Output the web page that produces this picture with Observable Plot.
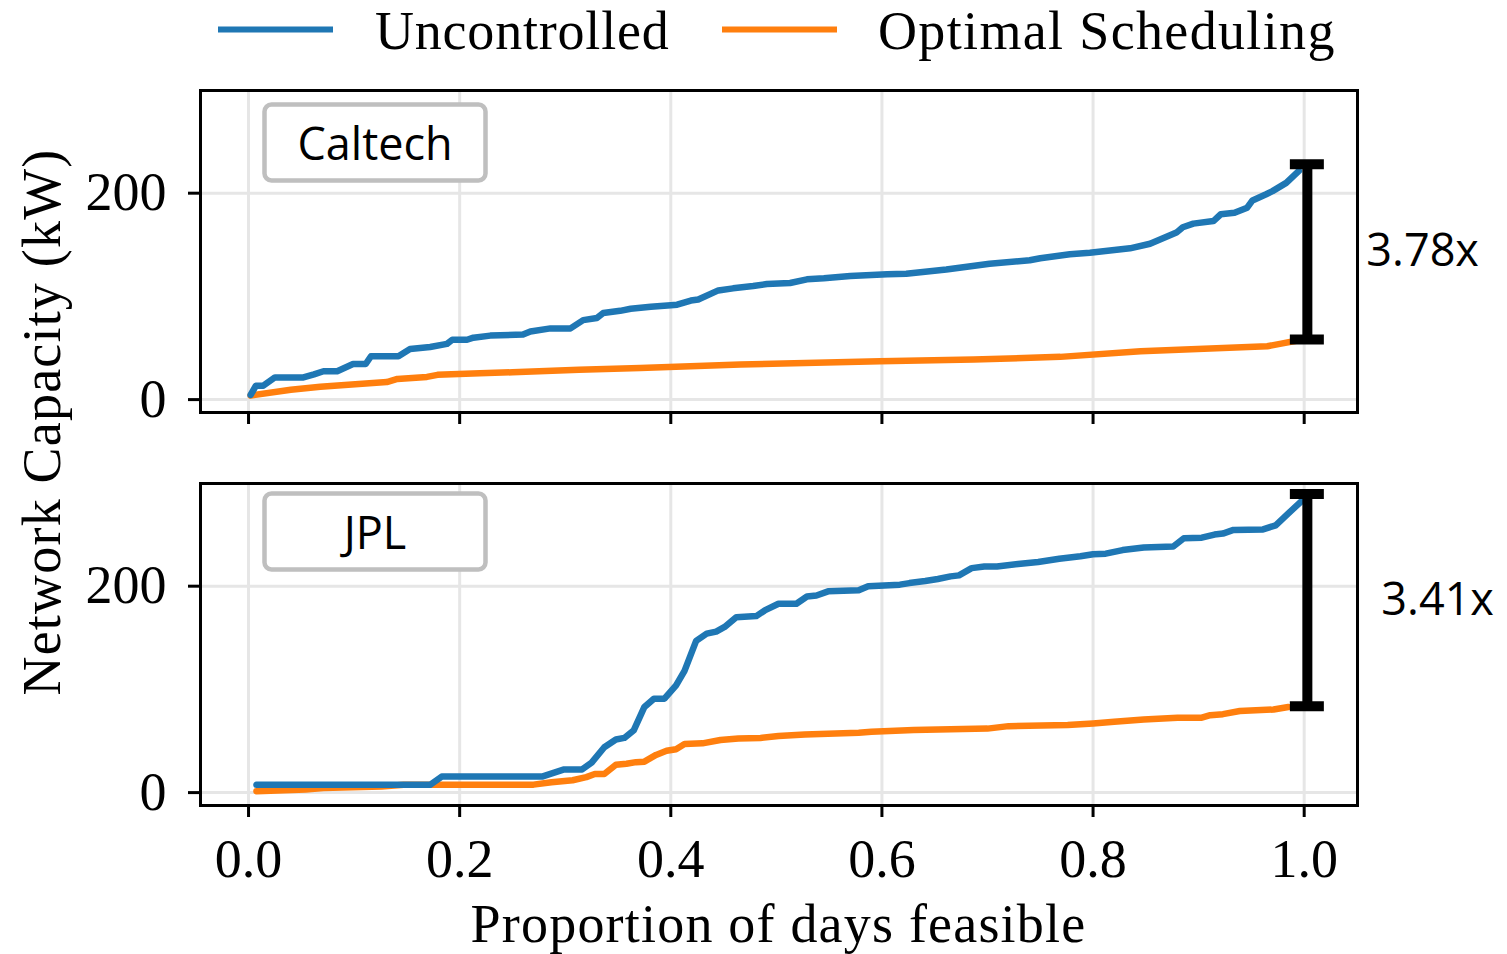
<!DOCTYPE html>
<html>
<head>
<meta charset="utf-8">
<script src="https://cdn.jsdelivr.net/npm/d3@7"></script>
<script src="https://cdn.jsdelivr.net/npm/@observablehq/plot@0.6"></script>
<style>
  html, body { margin: 0; padding: 0; background: #fff; }
  #chart { position: relative; width: 1507px; height: 954px; overflow: hidden; }
  .panel { position: absolute; left: 0; }
  #overlay { position: absolute; left: 0; top: 0; pointer-events: none; }
</style>
</head>
<body>
<div id="chart"></div>
<script>
// ---------------- data ----------------
const seriesNames = ["Uncontrolled", "Optimal Scheduling"];
const seriesColors = ["#1f77b4", "#ff7f0e"];
const xTicks = [0, 0.2, 0.4, 0.6, 0.8, 1.0];
const yTicks = [0, 200];

// [proportion of days feasible, network capacity kW]
const caltechUncontrolled = [
  [0.002,4.5],[0.007,13.5],[0.014,13.5],[0.025,21.5],[0.052,21.5],[0.062,24.5],[0.071,27.5],[0.084,27.5],
  [0.099,34.5],[0.111,34.5],[0.116,42],[0.142,42],[0.153,49],[0.172,51],[0.188,54],[0.193,58],[0.207,58],
  [0.213,60],[0.229,62],[0.26,63],[0.267,66],[0.286,69],[0.305,69],[0.317,77],[0.33,79],[0.336,84],
  [0.352,86],[0.362,88],[0.381,90],[0.4,91.5],[0.406,92],[0.419,96],[0.426,97],[0.445,105.8],[0.459,107.8],
  [0.478,110],[0.491,112],[0.513,113],[0.529,116.5],[0.545,117.5],[0.57,119.7],[0.605,121.4],[0.623,122],
  [0.661,126],[0.702,131.6],[0.74,135],[0.75,137],[0.778,140.8],[0.797,142.3],[0.835,146.6],[0.854,151],
  [0.879,161.8],[0.885,167],[0.895,170.5],[0.914,173],[0.921,179.6],[0.934,181],[0.946,186],[0.951,193],
  [0.964,199],[0.97,202],[0.983,210],[0.995,221.6]
];
const caltechOptimal = [
  [0.002,4],[0.04,9.5],[0.068,12.5],[0.131,17],[0.141,20],[0.169,22],[0.179,24],[0.219,25.5],[0.25,26.5],
  [0.313,29],[0.371,30.7],[0.466,34],[0.598,37.2],[0.687,38.8],[0.769,41.4],[0.845,46.9],[0.965,51.7],
  [0.977,54],[0.995,57.5]
];
const jplUncontrolled = [
  [0.0075,7.5],[0.172,7.5],[0.183,15.5],[0.278,15.5],[0.299,22.5],[0.316,22.5],[0.325,29],[0.337,44],
  [0.348,51.5],[0.356,53],[0.365,60.5],[0.375,83],[0.384,91],[0.394,91],[0.405,104],[0.413,118],[0.424,147],
  [0.434,154],[0.443,156],[0.451,160.5],[0.462,170],[0.481,171],[0.489,176.5],[0.502,183],[0.519,183],
  [0.529,190],[0.538,191],[0.549,195],[0.578,196],[0.587,200],[0.617,201.5],[0.626,203],[0.641,205],
  [0.653,207],[0.665,209.5],[0.673,210.5],[0.685,217.5],[0.697,219],[0.709,219],[0.729,221.5],[0.748,223.5],
  [0.768,226.5],[0.788,229],[0.8,231],[0.812,231.5],[0.828,235],[0.848,237.5],[0.876,238.5],[0.886,246.5],
  [0.903,247],[0.915,250],[0.923,251],[0.933,254.5],[0.961,255],[0.973,259],[0.985,270.5],[0.997,282]
];
const jplOptimal = [
  [0.0075,1.3],[0.054,2.9],[0.071,4.5],[0.126,6],[0.147,7.7],[0.27,7.7],[0.287,10],[0.307,12],[0.32,15],
  [0.328,18],[0.337,18],[0.348,27],[0.358,28],[0.367,29.5],[0.375,30],[0.386,36.5],[0.396,40.5],[0.405,42],
  [0.413,47],[0.43,47.7],[0.447,51],[0.464,52.5],[0.485,53],[0.502,54.8],[0.527,56.4],[0.578,58],[0.59,59],
  [0.63,60.6],[0.7,62],[0.72,64.4],[0.776,65.4],[0.8,67],[0.82,68.6],[0.848,70.8],[0.88,72.6],[0.903,72.6],
  [0.911,75],[0.923,76],[0.939,79],[0.971,80.5],[0.985,83]
];
// gap annotations: x, low, high, label
const caltechGap = {x: 1.003, lo: 58.3, hi: 228, label: "3.78x"};
const jplGap = {x: 1.003, lo: 83.6, hi: 289.4, label: "3.41x"};

// ---------------- drawing ----------------
const W = 1507, ML = 200, MR = 150, MT = 30, FH = 322;
const serif = "'Liberation Serif', 'Times New Roman', serif";
const sans = "'Open Sans', 'Noto Sans', sans-serif";
const gridStyle = {stroke: "#e6e6e6", strokeOpacity: 1, strokeWidth: 3};

function panel({name, unc, opt, gap, showLabels, marginBottom, boxTop, labelDx}) {
  const height = MT + FH + marginBottom;
  const boxL = 64, boxW = 221, boxH = 76;
  const fw = W - ML - MR;
  return Plot.plot({
    width: W, height, marginLeft: ML, marginRight: MR, marginTop: MT, marginBottom,
    x: {domain: [-0.0455, 1.0505]},
    y: {domain: [-12.5, 299.5]},
    style: {fontFamily: serif, fontSize: "54px", background: "transparent", overflow: "visible"},
    marks: [
      Plot.gridX(xTicks, gridStyle),
      Plot.gridY(yTicks, gridStyle),
      Plot.frame({fill: "white", stroke: "#bfbfbf", strokeWidth: 4.5, rx: 7,
        insetLeft: boxL, insetRight: fw - boxL - boxW, insetTop: boxTop, insetBottom: FH - boxTop - boxH}),
      Plot.text([name], {frameAnchor: "top-left", dx: boxL + boxW / 2, dy: boxTop + boxH / 2 + 3,
        text: d => d, textAnchor: "middle", lineAnchor: "middle", fontFamily: sans, fontSize: 45, fill: "black"}),
      Plot.line(opt, {x: d => d[0], y: d => d[1], stroke: seriesColors[1], strokeWidth: 6.5, strokeLinejoin: "round"}),
      Plot.line(unc, {x: d => d[0], y: d => d[1], stroke: seriesColors[0], strokeWidth: 6.5, strokeLinejoin: "round"}),
      Plot.ruleX([gap], {x: d => d.x, y1: d => d.lo, y2: d => d.hi, stroke: "black", strokeWidth: 10}),
      Plot.ruleY([gap.lo, gap.hi], {y: d => d, x1: gap.x, x2: gap.x, insetLeft: -17, insetRight: -17, stroke: "black", strokeWidth: 10}),
      Plot.text([gap], {x: d => d.x, y: d => (d.lo + d.hi) / 2, text: d => d.label, dx: labelDx,
        textAnchor: "start", lineAnchor: "middle", fontFamily: sans, fontSize: 45, fill: "black"}),
      Plot.frame({stroke: "black", strokeWidth: 3}),
      Plot.axisY(yTicks, {tickSize: 12, tickPadding: 22, strokeWidth: 3, label: null, tickFormat: d => String(d)}),
      Plot.axisX(xTicks, {tickSize: 12, tickPadding: 21, strokeWidth: 3, label: null,
        tickFormat: showLabels ? d3.format(".1f") : () => ""})
    ]
  });
}

const chart = document.getElementById("chart");
function place(svg, top) {
  const wrap = document.createElement("div");
  wrap.className = "panel";
  wrap.style.top = top + "px";
  wrap.appendChild(svg);
  chart.appendChild(wrap);
}
place(panel({name: "Caltech", unc: caltechUncontrolled, opt: caltechOptimal, gap: caltechGap,
  showLabels: false, marginBottom: 40, boxTop: 14, labelDx: 59}), 60);
place(panel({name: "JPL", unc: jplUncontrolled, opt: jplOptimal, gap: jplGap,
  showLabels: true, marginBottom: 149, boxTop: 10, labelDx: 74}), 453);

// legend and shared axis titles
const ov = d3.select(chart).append("svg").attr("id", "overlay").attr("width", W).attr("height", 954);
const legendX = [{line: 218, text: 375, ls: 0.8}, {line: 722, text: 878, ls: 1.35}];
seriesNames.forEach((s, i) => {
  ov.append("line").attr("x1", legendX[i].line).attr("x2", legendX[i].line + 115)
    .attr("y1", 29.5).attr("y2", 29.5).attr("stroke", seriesColors[i]).attr("stroke-width", 6);
  ov.append("text").attr("x", legendX[i].text).attr("y", 49).text(s)
    .attr("font-family", serif).attr("font-size", 54).attr("letter-spacing", legendX[i].ls).attr("fill", "black");
});
ov.append("text").attr("x", 778.5).attr("y", 942).attr("text-anchor", "middle")
  .text("Proportion of days feasible").attr("font-family", serif).attr("font-size", 54)
  .attr("letter-spacing", 1.2).attr("fill", "black");
ov.append("text").attr("transform", "translate(60,422) rotate(-90)").attr("text-anchor", "middle")
  .text("Network Capacity (kW)").attr("font-family", serif).attr("font-size", 54)
  .attr("letter-spacing", 1.2).attr("fill", "black");
</script>
</body>
</html>
